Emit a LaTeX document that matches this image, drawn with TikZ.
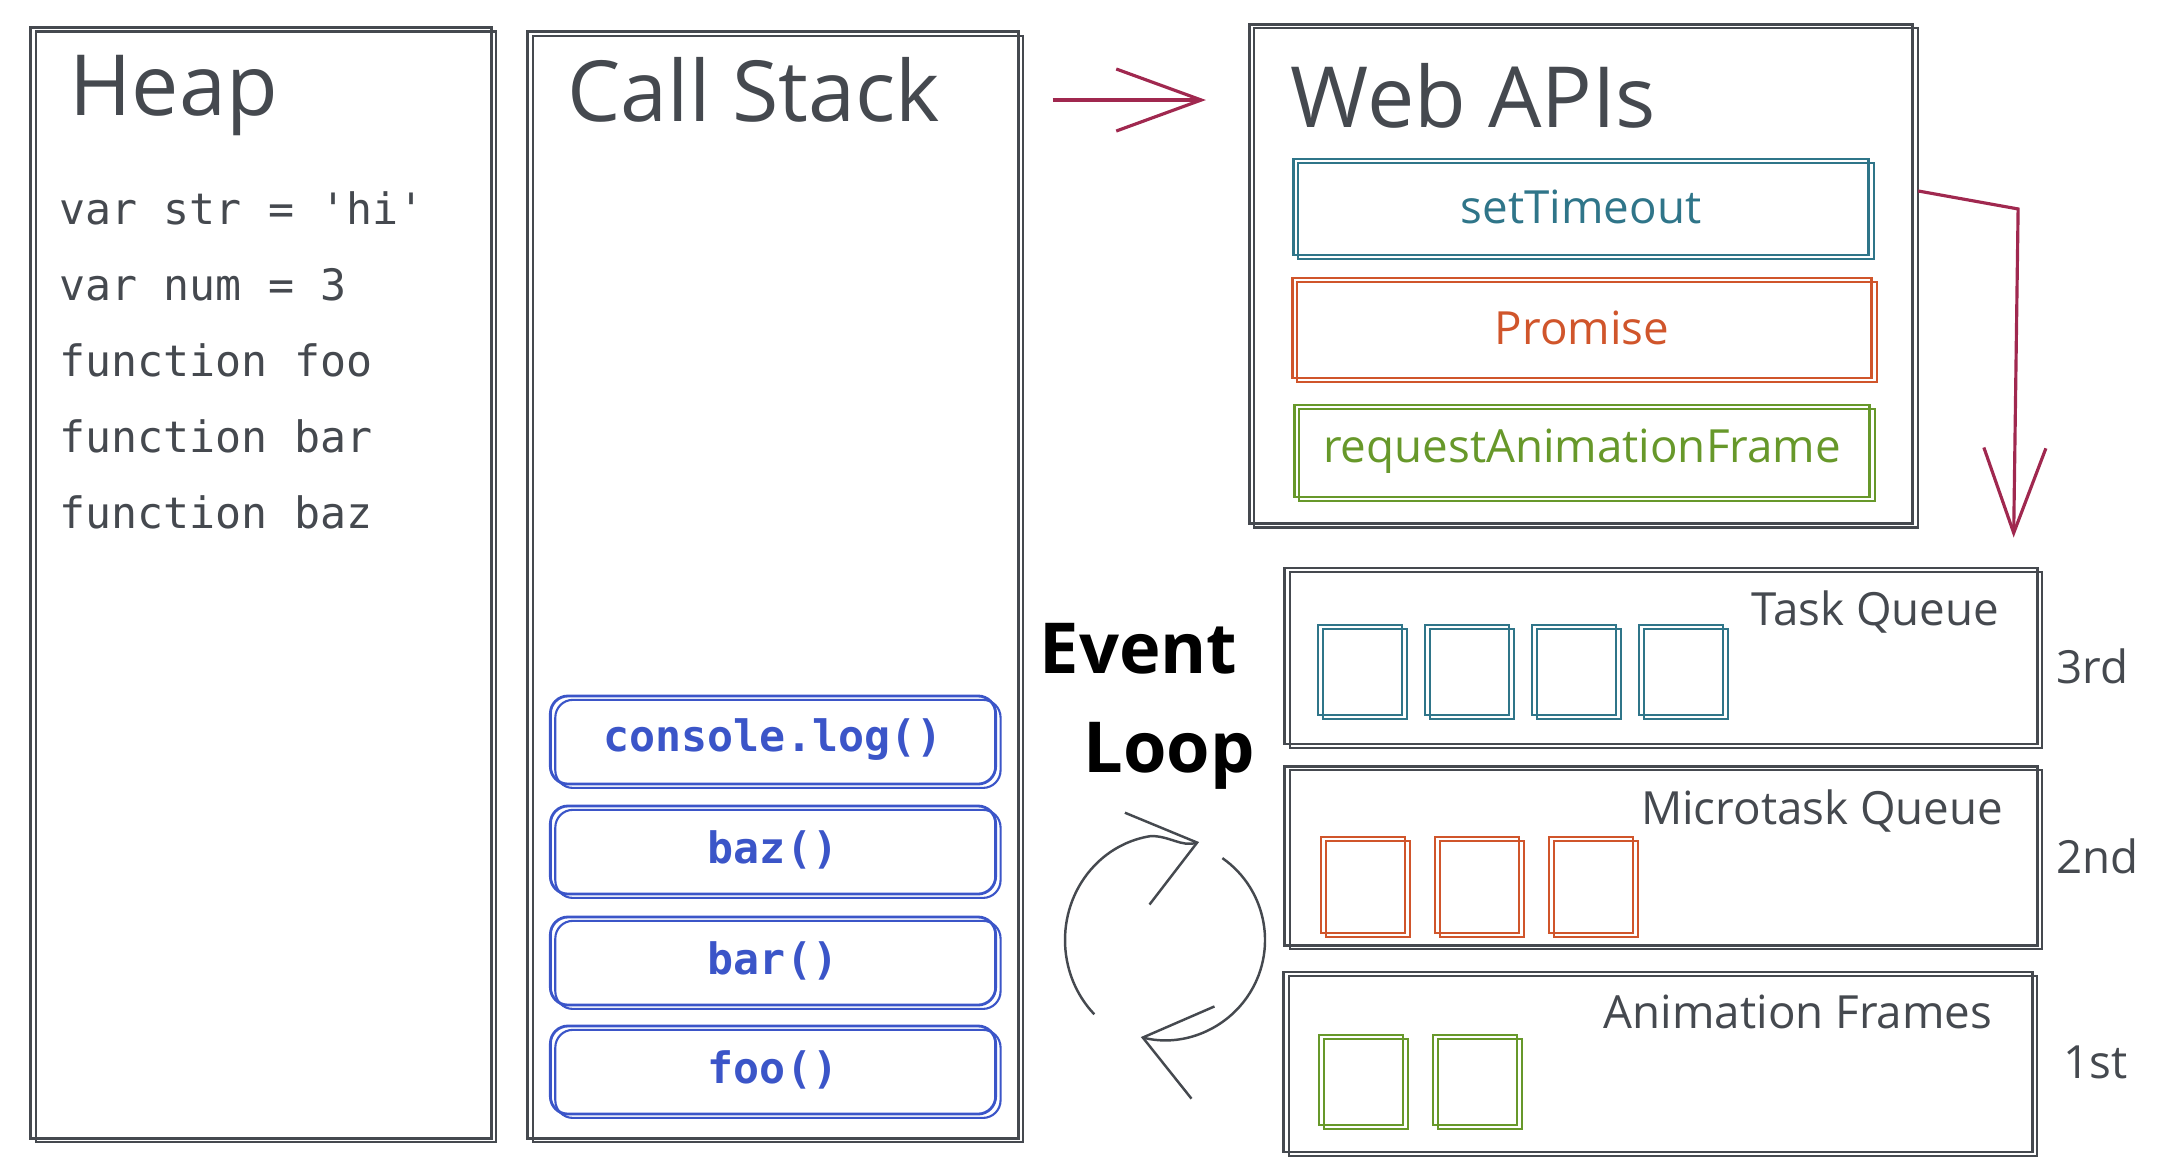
\documentclass[tikz,border=0pt]{standalone}
\usepackage{fontspec}
\setmainfont{Open Sans}
\setmonofont{DejaVu Sans Mono}
\usetikzlibrary{arrows.meta,calc,positioning}
\definecolor{ink}{HTML}{45494F}
\definecolor{apiteal}{HTML}{2F7589}
\definecolor{apiorange}{HTML}{D0552B}
\definecolor{apigreen}{HTML}{67982A}
\definecolor{callblue}{HTML}{3B55C8}
\definecolor{crimson}{HTML}{A0284F}
\begin{document}
\begin{tikzpicture}[x=0.01cm, y=-0.01cm, >={Straight Barb[length=0.85cm,width=0.62cm]},
  sketch/.style={draw=#1, line width=0.8pt, postaction={draw=#1, line width=0.6pt, transform canvas={xshift=1.4pt,yshift=-1.1pt}}},
  sketch/.default=ink,
  headline/.style={text=ink, font=\fontsize{24}{28}\selectfont, anchor=base west, inner sep=0pt},
  code/.style={text=ink, font=\ttfamily\fontsize{12.3}{14}\selectfont, anchor=base west, inner sep=0pt},
  call/.style={sketch=callblue, rounded corners=5pt, minimum width=4.45cm, minimum height=0.88cm, text=callblue, font=\ttfamily\bfseries\fontsize{12.3}{14}\selectfont},
  api/.style={sketch=#1, minimum width=5.75cm, minimum height=0.96cm, text=#1, font=\fontsize{13}{15}\selectfont},
  qlabel/.style={text=ink, font=\fontsize{13}{15}\selectfont, inner sep=0pt},
  cell/.style={sketch=#1, minimum width=0.84cm, minimum height=0.9cm, inner sep=0pt},
  redarrow/.style={->, draw=crimson, line width=0.9pt},
  looparrow/.style={->, >={Straight Barb[length=0.62cm,width=0.95cm]}, draw=ink, line width=0.7pt}]
\useasboundingbox (0,0) rectangle (2158,1172);

% columns
\node[sketch, minimum width=4.6cm, minimum height=11.1cm] (heap) at (261,583) {};
\node[sketch, minimum width=4.9cm, minimum height=11.06cm] (stack) at (773,585) {};
\node[sketch, minimum width=6.63cm, minimum height=4.99cm] (web) at (1581,274) {};
\node[headline] (heaptitle) at (69,115) {Heap};
\node[headline] (stacktitle) at (567,121) {Call Stack};
\node[headline] (webtitle) at (1290,127) {Web APIs};

\foreach \line [count=\i from 0] in {var str = 'hi', var num = 3, function foo, function bar, function baz}
  \node[code] (heap\i) at (59,224+76*\i) {\line};

\foreach \fn/\y [count=\i] in {console.log()/740, baz()/850, bar()/961, foo()/1070}
  \node[call] (frame\i) at (773,\y) {\fn};

\node[api=apiteal] (timeout) at (1581,207) {setTimeout};
\node[api=apiorange, minimum width=5.79cm, minimum height=1cm] (promise) at (1582,328) {Promise};
\node[api=apigreen, minimum height=0.92cm] (raf) at (1582,451) {requestAnimationFrame};

% queues
\node[sketch, minimum width=7.52cm, minimum height=1.76cm] (task) at (1661,656) {};
\node[sketch, minimum width=7.52cm, minimum height=1.79cm] (micro) at (1661,856) {};
\node[sketch, minimum width=7.48cm, minimum height=1.8cm] (anim) at (1658,1062) {};
\node[qlabel, anchor=base east] (tasklabel) at (2000,625) {Task Queue};
\node[qlabel, anchor=base east] (microlabel) at (2004,824) {Microtask Queue};
\node[qlabel, anchor=base east] (animlabel) at (1993,1028) {Animation Frames};
\node[qlabel, anchor=base west] (third) at (2056,683) {3rd};
\node[qlabel, anchor=base west] (second) at (2056,873) {2nd};
\node[qlabel, anchor=base west] (first) at (2063,1078) {1st};

\foreach \i in {0,...,3} \node[cell=apiteal] (task\i) at (1360+107*\i,670) {};
\foreach \i in {0,1,2} \node[cell=apiorange, minimum height=0.96cm] (micro\i) at (1363+114*\i,885) {};
\foreach \i in {0,1} \node[cell=apigreen] (anim\i) at (1361+114*\i,1080) {};

% event loop
\node[font=\bfseries\fontsize{20}{24}\selectfont, anchor=base west, inner sep=0pt] (event) at (1039,673) {Event};
\node[font=\bfseries\fontsize{20}{24}\selectfont, anchor=base west, inner sep=0pt] (loop) at (1083,772) {Loop};
\coordinate (wheel) at (1165,940);
\draw[looparrow] ($(wheel)+(135:100 and 105)$) arc[start angle=135, end angle=262, x radius=100, y radius=105] to[out=0,in=195] ++(48,6);
\draw[looparrow] ($(wheel)+(-55:100 and 100)$) arc[start angle=-55, end angle=104, radius=100];

\draw[redarrow] ($(stack.east |- stacktitle.base)+(33,-21)$) -- ($(web.west |- stacktitle.base)+(-42,-21)$);
\draw[redarrow] ($(web.north east)+(4,168)$) -- ++(100,18) -- ($(task.north east)+(-25,-29)$);
\end{tikzpicture}
\end{document}
